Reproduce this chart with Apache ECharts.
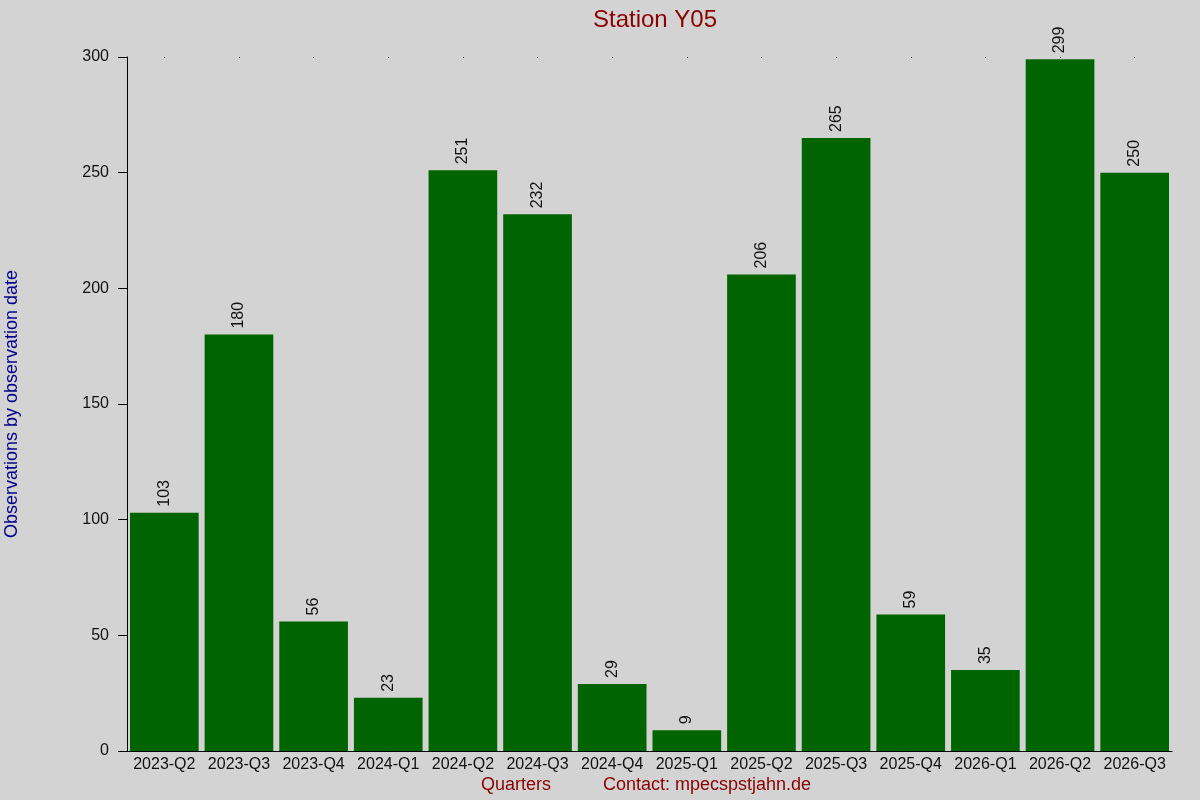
<!DOCTYPE html>
<html>
<head>
<meta charset="utf-8">
<script src="https://cdn.jsdelivr.net/npm/echarts@6/dist/echarts.min.js"></script>
<style>
html, body { margin: 0; padding: 0; background: #d3d3d3; }
#main { width: 1200px; height: 800px; }
</style>
</head>
<body>
<div id="main"></div>
<script>
var quarters = ['2023-Q2', '2023-Q3', '2023-Q4', '2024-Q1', '2024-Q2', '2024-Q3', '2024-Q4',
    '2025-Q1', '2025-Q2', '2025-Q3', '2025-Q4', '2026-Q1', '2026-Q2', '2026-Q3'];
var counts = [103, 180, 56, 23, 251, 232, 29, 9, 206, 265, 59, 35, 299, 250];

var myChart = echarts.init(document.getElementById('main'));
myChart.setOption({
    backgroundColor: '#d3d3d3',
    animation: false,
    title: {
        text: 'Station Y05',
        left: 650,
        textAlign: 'center',
        top: 3,
        textStyle: { color: '#8b0000', fontSize: 24, fontWeight: 'normal', fontFamily: 'Liberation Sans' }
    },
    grid: { left: 127, right: 28, top: 57, bottom: 49, containLabel: false, outerBoundsMode: 'none' },
    xAxis: [{
        type: 'category',
        data: quarters,
        axisLine: { lineStyle: { color: '#000', width: 1 } },
        axisTick: { show: false },
        axisLabel: { color: '#111', fontSize: 16, fontFamily: 'Liberation Sans', margin: 6, interval: 0 }
    }, {
        type: 'category',
        data: quarters,
        position: 'top',
        axisLine: { show: false },
        axisTick: { show: true, alignWithLabel: true, inside: true, length: 1, lineStyle: { color: '#000' } },
        axisLabel: { show: false }
    }],
    yAxis: {
        type: 'value',
        min: 0,
        max: 300,
        interval: 50,
        name: 'Observations by observation date',
        nameLocation: 'middle',
        nameGap: 106,
        nameTextStyle: { color: '#00008b', fontSize: 18, fontFamily: 'Liberation Sans' },
        axisLine: { show: true, lineStyle: { color: '#000', width: 1 } },
        axisTick: { show: true, length: 9, lineStyle: { color: '#000' } },
        axisLabel: { color: '#111', fontSize: 16, fontFamily: 'Liberation Sans', margin: 18 },
        splitLine: { show: false }
    },
    series: [{
        type: 'bar',
        data: counts,
        barCategoryGap: '8%',
        itemStyle: { color: '#006400' },
        label: {
            show: true,
            position: 'top',
            rotate: 90,
            align: 'left',
            verticalAlign: 'middle',
            distance: 6,
            color: '#111',
            fontSize: 16,
            fontFamily: 'Liberation Sans'
        }
    }],
    graphic: [{
        type: 'text',
        left: 481,
        top: 776,
        style: { text: 'Quarters', fill: '#8b0000', fontSize: 18, fontFamily: 'Liberation Sans' }
    }, {
        type: 'text',
        left: 603,
        top: 776,
        style: { text: 'Contact: mpecspstjahn.de', fill: '#8b0000', fontSize: 18, fontFamily: 'Liberation Sans' }
    }]
});
</script>
</body>
</html>
